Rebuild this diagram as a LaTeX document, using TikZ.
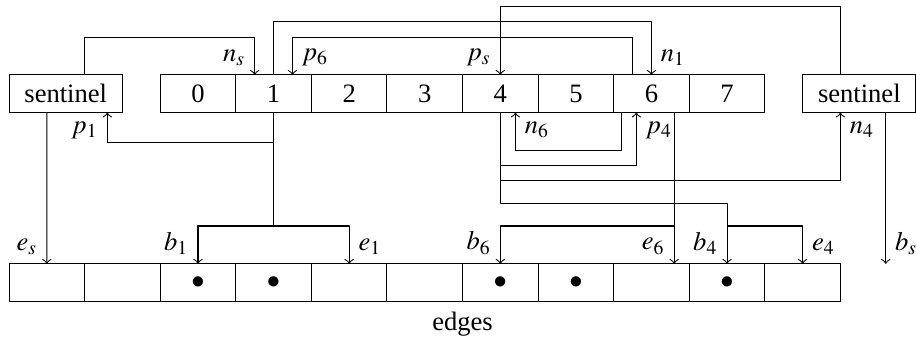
\documentclass[tikz,border=0pt]{standalone}
\usepackage{mathptmx}
\usepackage{fontspec}
\setmainfont{Liberation Serif}

\begin{document}
\begin{tikzpicture}[cell/.style={draw, minimum width=1cm, minimum height=0.5cm, inner sep=0pt, outer sep=0pt}, wide/.style={cell, minimum width=1.5cm}, >=to, line join=round]
	\useasboundingbox (-0.12,0.99) rectangle (12,-3.48);
	% 1. Vertex array with a sentinel on each side
	\foreach \i in {0,...,7}
		\node[cell] (v\i) at (\i+2.5,-0.25) {\i};
	\node[wide] (sentL) at (0.75,-0.25) {sentinel};
	\node[wide] (sentR) at (11.25,-0.25) {sentinel};
	
	% 2. Edge array, used slots get a bullet
	\foreach \i in {0,...,10}
		\node[cell] (e\i) at (\i+0.5,-2.75) {};
	\foreach \i in {2,3,6,7,9}
		\node (dot\i) at (e\i) {$\bullet$};
	\node (edges) at (6,-3.3) {edges};
	
	% 3. Links above the vertex array (next / prev)
	\draw[->] ([xshift=2.5mm]sentL.north) -- ++(0,0.5) -| ([xshift=-2.5mm]v1.north) node[anchor=south east] {$n_s$};
	\draw[->] (v1.north) -- ++(0,0.7) -| (v6.north) node[anchor=south west] {$n_1$};
	\draw[->] ([xshift=-2.5mm]v6.north) -- ++(0,0.5) -| ([xshift=2.5mm]v1.north) node[anchor=south west] {$p_6$};
	\draw[->] ([xshift=-2.5mm]sentR.north) -- ++(0,0.9) -| (v4.north) node[anchor=south east] {$p_s$};
	
	% 4. Links below the vertex array
	\draw[->] (v1.south) -- ++(0,-0.4) -| ([xshift=5.5mm]sentL.south) node[anchor=north east] {$p_1$};
	\draw[->] ([xshift=-4mm]v6.south) -- ++(0,-0.5) -| ([xshift=2mm]v4.south) node[anchor=north west] {$n_6$};
	\draw[->] (v4.south) -- ++(0,-0.7) -| ([xshift=-2mm]v6.south) node[anchor=north west] {$p_4$};
	\draw[->] (v4.south) -- ++(0,-0.9) -| ([xshift=-2.5mm]sentR.south) node[anchor=north west] {$n_4$};
	
	% 5. Begin / end pointers into the edge array
	\draw[->] ([xshift=-2.5mm]sentL.south) -- (e0.north) node[anchor=south east] {$e_s$};
	\draw (v1.south) -- ++(0,-1.5) coordinate (j1);
	\draw[->] (j1) -| (e2.north) node[anchor=south east] {$b_1$};
	\draw[->] (j1) -| (e4.north) node[anchor=south west] {$e_1$};
	\draw[->] ([xshift=3mm]v6.south) -- ([xshift=3mm]e8.north) node[anchor=south east] {$e_6$};
	\draw[->] ([xshift=3mm,yshift=-15mm]v6.south) -| (e6.north) node[anchor=south east] {$b_6$};
	\draw[->] (v4.south) -- ++(0,-1.2) -| (e9.north) node[anchor=south east] {$b_4$};
	\draw[->] ([yshift=5mm]e9.north) -| (e10.north) node[anchor=south west] {$e_4$};
	\draw[->] ([xshift=3.5mm]sentR.south) -- ++(0,-2) coordinate (bs) node[anchor=south west] {$b_s$};
\end{tikzpicture}
\end{document}
